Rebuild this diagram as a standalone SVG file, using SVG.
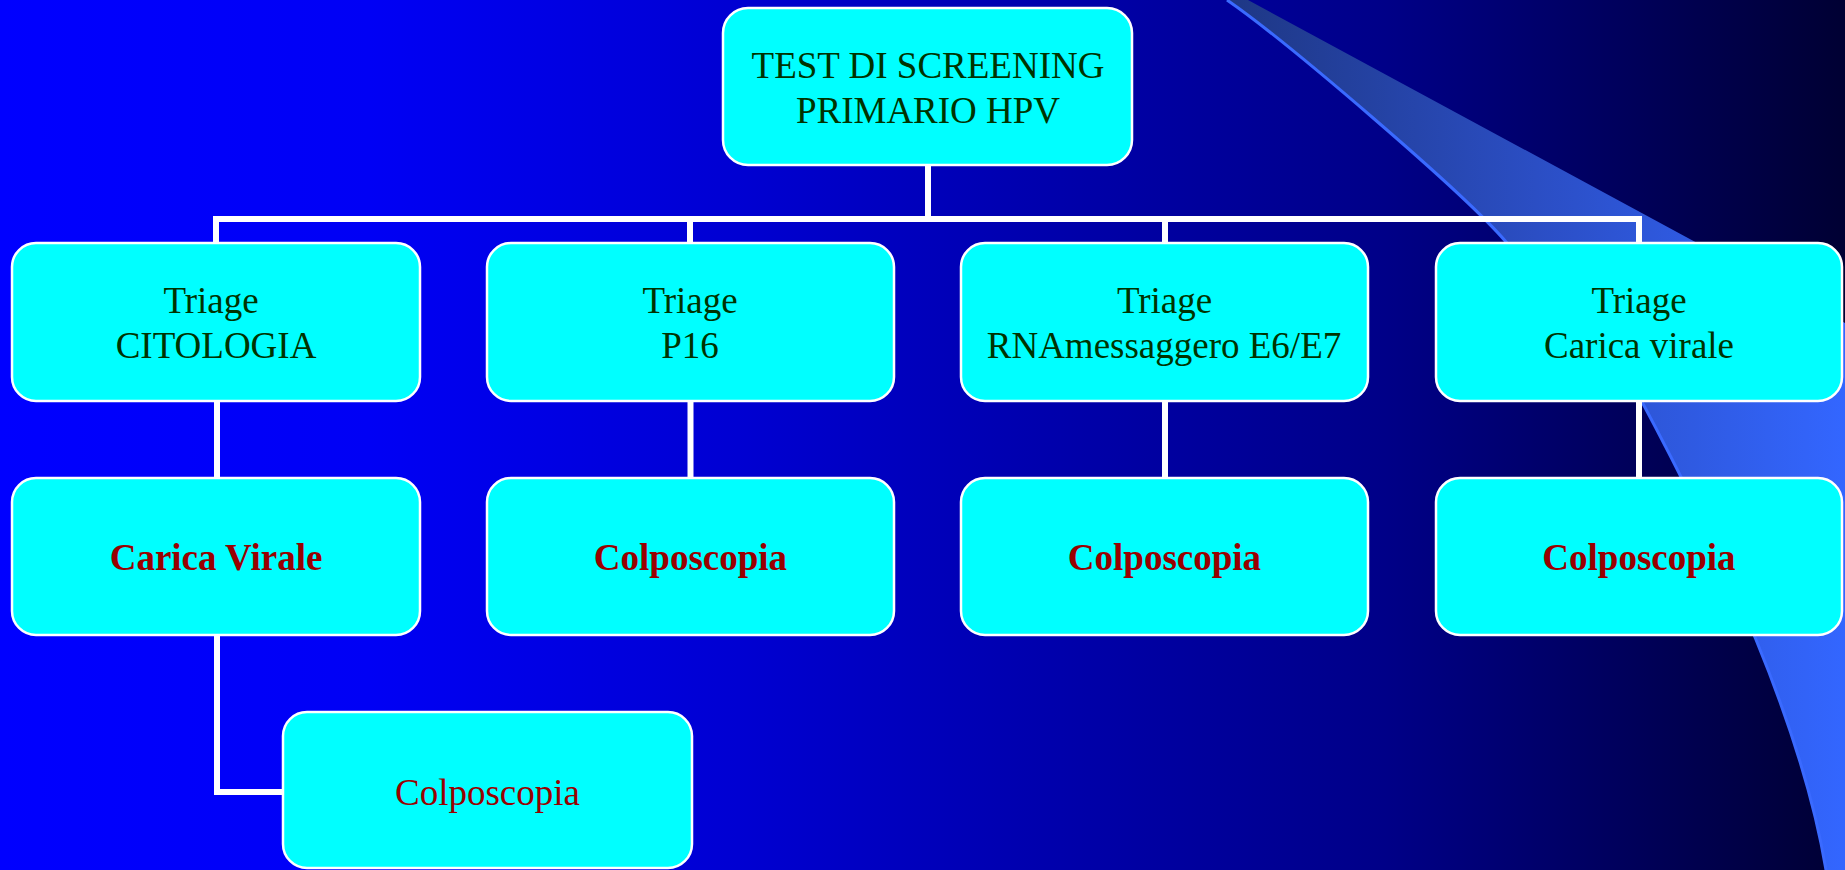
<svg xmlns="http://www.w3.org/2000/svg" width="1845" height="870" viewBox="0 0 1845 870">
<defs>
<linearGradient id="bg" x1="0" y1="0" x2="1845" y2="0" gradientUnits="userSpaceOnUse">
<stop offset="0" stop-color="#0000FF"/>
<stop offset="0.2" stop-color="#0000F5"/>
<stop offset="0.4" stop-color="#0000D2"/>
<stop offset="0.55" stop-color="#0000B0"/>
<stop offset="0.75" stop-color="#000088"/>
<stop offset="0.9" stop-color="#000055"/>
<stop offset="1" stop-color="#000033"/>
</linearGradient>
<linearGradient id="sw" x1="1227" y1="0" x2="1845" y2="0" gradientUnits="userSpaceOnUse">
<stop offset="0" stop-color="#1E3784"/>
<stop offset="0.5" stop-color="#2B4EC4"/>
<stop offset="1" stop-color="#3366FF"/>
</linearGradient>
<style>
.box{fill:#00FFFF;stroke:#FFFFFF;stroke-width:2.5}
.t{font-family:"Liberation Serif","Times New Roman",serif;font-size:37px;text-anchor:middle;fill:#003300}
.r{fill:#990000}
.b{font-weight:bold}
.conn{fill:none;stroke:#FFFFFF;stroke-width:6;stroke-linejoin:miter}
</style>
</defs>
<rect x="0" y="0" width="1845" height="870" fill="url(#bg)"/>
<g id="swoosh">
<path d="M1227,0 C1285,40 1464.5,193 1507,243 C1549.5,293 1616,350 1641,400 C1724,555 1802,725 1826,870 L1845,870 L1845,323 L1248,0 Z" fill="url(#sw)"/>
<path d="M1227,0 C1285,40 1464.5,193 1507,243 C1549.5,293 1616,350 1641,400 C1724,555 1802,725 1826,870" fill="none" stroke="#3A6AFF" stroke-width="3"/>
</g>
<g id="connectors" class="conn">
<path d="M928,165 V219"/>
<path d="M216,243 V219 H1639 V243"/>
<path d="M690,219 V243"/>
<path d="M1165,219 V243"/>
<path d="M217,401 V478"/>
<path d="M690.5,401 V478"/>
<path d="M1165,401 V478"/>
<path d="M1639,401 V478"/>
<path d="M217,635 V792 H283"/>
</g>
<g id="root">
<rect class="box" x="723" y="8" width="409" height="157" rx="25"/>
<text class="t" x="928" y="78">TEST DI SCREENING</text>
<text class="t" x="928" y="123">PRIMARIO HPV</text>
</g>
<g id="triage-citologia">
<rect class="box" x="12" y="243" width="408" height="158" rx="24"/>
<text class="t" x="211" y="313">Triage</text>
<text class="t" x="216" y="358">CITOLOGIA</text>
</g>
<g id="triage-p16">
<rect class="box" x="487" y="243" width="407" height="158" rx="24"/>
<text class="t" x="690" y="313">Triage</text>
<text class="t" x="690" y="358">P16</text>
</g>
<g id="triage-rna">
<rect class="box" x="961" y="243" width="407" height="158" rx="24"/>
<text class="t" x="1164.5" y="313">Triage</text>
<text class="t" x="1164" y="358">RNAmessaggero E6/E7</text>
</g>
<g id="triage-carica">
<rect class="box" x="1436" y="243" width="406" height="158" rx="24"/>
<text class="t" x="1639" y="313">Triage</text>
<text class="t" x="1639" y="358">Carica virale</text>
</g>
<g id="carica-virale">
<rect class="box" x="12" y="478" width="408" height="157" rx="24"/>
<text class="t r b" x="216" y="570">Carica Virale</text>
</g>
<g id="colpo-p16">
<rect class="box" x="487" y="478" width="407" height="157" rx="24"/>
<text class="t r b" x="690.5" y="570">Colposcopia</text>
</g>
<g id="colpo-rna">
<rect class="box" x="961" y="478" width="407" height="157" rx="24"/>
<text class="t r b" x="1164.5" y="570">Colposcopia</text>
</g>
<g id="colpo-carica">
<rect class="box" x="1436" y="478" width="406" height="157" rx="24"/>
<text class="t r b" x="1639" y="570">Colposcopia</text>
</g>
<g id="colpo-citologia">
<rect class="box" x="283" y="712" width="409" height="156" rx="24"/>
<text class="t r" x="487.5" y="805">Colposcopia</text>
</g>
</svg>
